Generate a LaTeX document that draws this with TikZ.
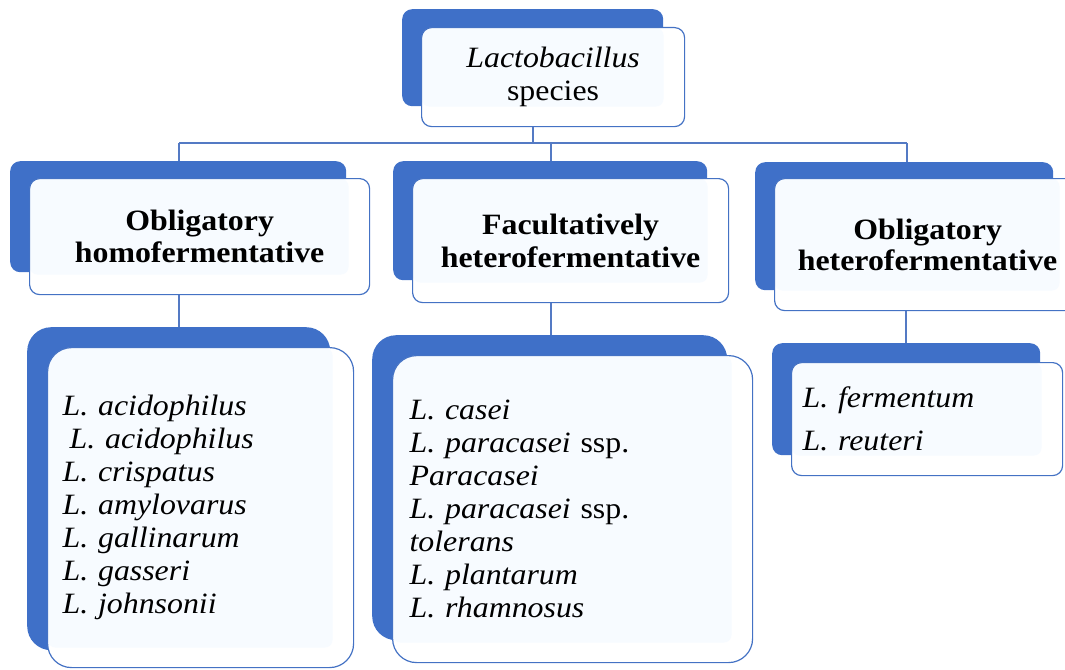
\documentclass[tikz,border=0pt]{standalone}
\usepackage{fontspec}
\setmainfont[FakeStretch=1.08]{Liberation Serif}
\definecolor{backblue}{RGB}{63,112,200}
\definecolor{edgeblue}{RGB}{68,114,196}
\definecolor{lineblue}{RGB}{84,122,196}
\definecolor{pale}{RGB}{247,251,255}
\tikzset{
  backbox/.style={fill=backblue, draw=none, anchor=north west, inner sep=0pt},
  frontbox/.style={fill=white, draw=edgeblue, line width=1.2pt, anchor=north west, inner sep=0pt,
    font=\fontsize{29.5}{33}\selectfont,
    path picture={\fill[pale, rounded corners=8pt] (path picture bounding box.north west) rectangle ([xshift=-21pt,yshift=20pt]path picture bounding box.south east);}},
  headbox/.style={frontbox, align=center, rounded corners=10pt},
  listbox/.style={frontbox, align=left},
  smallr/.style={rounded corners=10pt},
  bigr/.style={rounded corners=24pt},
  conn/.style={draw=lineblue, line width=1.6pt}
}
\begin{document}
\begin{tikzpicture}[x=1pt,y=-1pt]
\useasboundingbox (0,0) rectangle (1065,669);
% back boxes
\node[backbox, smallr, minimum width=261pt, minimum height=97pt] (topb) at (402,9) {};
\node[backbox, smallr, minimum width=336pt, minimum height=111pt] (l1b) at (10,161) {};
\node[backbox, smallr, minimum width=314pt, minimum height=119pt] (m1b) at (393,161) {};
\node[backbox, smallr, minimum width=298pt, minimum height=128pt] (r1b) at (755,162) {};
\node[backbox, bigr, minimum width=303pt, minimum height=323pt] (l2b) at (27,327) {};
\node[backbox, bigr, minimum width=355pt, minimum height=305pt] (m2b) at (372,335) {};
\node[backbox, smallr, minimum width=268pt, minimum height=112pt] (r2b) at (772,343) {};
% front boxes
\node[headbox, minimum width=263pt, minimum height=99pt] (topf) at (421,27) {\textit{Lactobacillus}\\species};
\node[headbox, minimum width=340pt, minimum height=116pt, font=\fontsize{29.5}{32}\selectfont\bfseries] (l1f) at (29,178) {Obligatory\\homofermentative};
\node[headbox, minimum width=316pt, minimum height=124pt, font=\fontsize{29.5}{33}\selectfont\bfseries] (m1f) at (412,178) {Facultatively\\heterofermentative};
\node[headbox, minimum width=306pt, minimum height=132pt, font=\fontsize{29.5}{31}\selectfont\bfseries] (r1f) at (774,178) {Obligatory\\heterofermentative};
\node[listbox, bigr, inner xsep=15pt, text width=276pt, minimum height=320pt] (l2f) at (47,347)
  {\textit{L. acidophilus}\\\hspace*{7pt}\textit{L. acidophilus}\\\textit{L. crispatus}\\\textit{L. amylovarus}\\\textit{L. gallinarum}\\\textit{L. gasseri}\\\textit{L. johnsonii}};
\node[listbox, bigr, inner xsep=17pt, text width=326pt, minimum height=307pt] (m2f) at (392,355)
  {\textit{L. casei}\\\textit{L. paracasei} ssp.\\\textit{Paracasei}\\\textit{L. paracasei} ssp.\\\textit{tolerans}\\\textit{L. plantarum}\\\textit{L. rhamnosus}};
\node[listbox, smallr, inner xsep=11pt, text width=249pt, minimum height=113pt] (r2f) at (791,362)
  {\textit{L. fermentum}\\[10pt]\textit{L. reuteri}};
% connectors
\coordinate (busT) at (533,143);
\coordinate (busL) at (179,143);
\coordinate (busM) at (551,143);
\coordinate (busR) at (907,143);
\draw[conn] (topf.south -| busT) -- (busT);
\draw[conn] (busL) -- (busR);
\draw[conn] (busL) -- (busL |- l1b.north);
\draw[conn] (busM) -- (busM |- m1b.north);
\draw[conn] (busR) -- (busR |- r1b.north);
\draw[conn] (l1f.south -| busL) -- (busL |- l2b.north);
\draw[conn] (m1f.south -| busM) -- (busM |- m2b.north);
\draw[conn] ([xshift=-1pt]r1f.south -| busR) -- ([xshift=-1pt]busR |- r2b.north);
\end{tikzpicture}
\end{document}
